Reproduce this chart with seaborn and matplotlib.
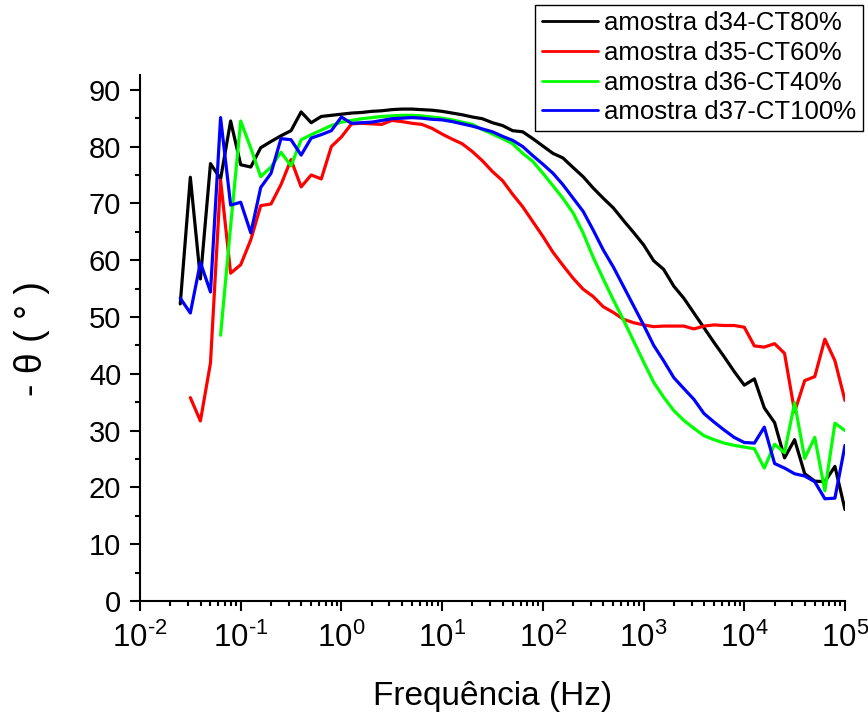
import numpy as np
import pandas as pd
import matplotlib
matplotlib.use("Agg")
import matplotlib.pyplot as plt
import matplotlib.ticker as mticker
import seaborn as sns

# ---------------- data ----------------
freq = [0.0251, 0.0316, 0.0398, 0.0501, 0.0631, 0.0794,
        0.1, 0.126, 0.158, 0.2, 0.251, 0.316, 0.398, 0.501, 0.631, 0.794,
        1, 1.26, 1.58, 2, 2.51, 3.16, 3.98, 5.01, 6.31, 7.94,
        10, 12.6, 15.8, 20, 25.1, 31.6, 39.8, 50.1, 63.1, 79.4,
        100, 126, 158, 200, 251, 316, 398, 501, 631, 794,
        1000, 1260, 1580, 2000, 2510, 3160, 3980, 5010, 6310, 7940,
        10000, 12600, 15800, 20000, 25100, 31600, 39800, 50100, 63100, 79400,
        100000]

d34 = [52.3, 74.6, 56.7, 77.0, 74.3, 84.5, 76.8, 76.4, 79.8, 80.9,
       81.9, 82.8, 86.1, 84.2, 85.3, 85.5, 85.7, 85.9, 86.0, 86.2,
       86.3, 86.5, 86.6, 86.6, 86.5, 86.4, 86.2, 85.9, 85.6, 85.2,
       84.9, 84.2, 83.7, 82.8, 82.6, 81.4, 80.1, 78.8, 78.0, 76.3,
       74.7, 72.7, 70.9, 69.2, 67.0, 64.9, 62.7, 59.9, 58.4, 55.4,
       53.3, 50.7, 48.1, 45.5, 43.0, 40.4, 38.0, 39.1, 34.0, 31.4,
       25.2, 28.4, 22.4, 21.1, 21.0, 23.7, 16.1]

# starts at the 2nd frequency
d35 = [35.8, 31.7, 41.9, 74.1, 57.7, 59.2, 63.6, 69.6, 69.9,
       73.3, 77.7, 72.9, 75.0, 74.3, 80.0, 81.7, 84.0, 84.1, 84.0,
       83.9, 84.6, 84.4, 84.1, 83.9, 83.2, 82.2, 81.3, 80.5, 79.1,
       77.5, 75.6, 74.0, 71.6, 69.4, 66.8, 64.2, 61.4, 59.1, 56.8,
       54.9, 53.6, 51.8, 50.8, 49.6, 49.0, 48.6, 48.3, 48.4, 48.4,
       48.4, 47.9, 48.4, 48.6, 48.5, 48.5, 48.2, 44.9, 44.7, 45.3,
       43.6, 33.3, 38.8, 39.5, 46.1, 42.3, 35.3]

# starts at the 5th frequency
d36 = [46.8, 66.0, 84.5, 79.7, 74.7, 76.4,
       79.0, 76.6, 81.2, 82.1, 82.9, 83.7, 84.3, 84.6, 84.9, 85.1,
       85.3, 85.4, 85.5, 85.5, 85.4, 85.2, 85.0, 84.7, 84.3, 83.9,
       83.0, 82.2, 81.4, 80.5, 78.8, 77.4, 75.3, 73.1, 70.9, 68.3,
       64.8, 60.5, 56.7, 53.0, 49.5, 45.8, 42.1, 38.5, 35.9, 33.5,
       31.8, 30.4, 29.1, 28.4, 27.8, 27.4, 27.1, 26.8, 23.4, 27.6,
       26.1, 34.9, 25.1, 28.8, 19.4, 31.3, 30.0]

d37 = [53.3, 50.7, 59.6, 54.4, 85.1, 69.7, 70.2, 64.8, 72.8, 75.3,
       81.4, 81.2, 78.5, 81.5, 82.1, 82.8, 85.2, 84.1, 84.2, 84.3,
       84.6, 84.9, 85.0, 85.1, 85.0, 84.8, 84.7, 84.4, 84.0, 83.6,
       83.1, 82.6, 81.8, 81.1, 80.0, 78.4, 76.9, 75.3, 73.3, 70.9,
       68.6, 65.3, 61.8, 58.8, 55.4, 52.0, 48.6, 45.0, 42.3, 39.3,
       37.4, 35.5, 33.0, 31.5, 30.1, 28.8, 27.9, 27.8, 30.6, 24.2,
       23.4, 22.4, 22.0, 21.0, 18.0, 18.1, 27.4]

labels = ["amostra d34-CT80%", "amostra d35-CT60%",
          "amostra d36-CT40%", "amostra d37-CT100%"]
colors = ["#000000", "#ff0000", "#00ff00", "#0000ff"]

x_exponents = [-2, -1, 0, 1, 2, 3, 4, 5]

series = [d34, d35, d36, d37]
frames = []
for lab, vals in zip(labels, series):
    f = freq[len(freq) - len(vals):]
    frames.append(pd.DataFrame({"freq": f, "theta": vals, "amostra": lab}))
df = pd.concat(frames, ignore_index=True)

# ---------------- style ----------------
sns.set_style("ticks")
plt.rcParams["font.family"] = ["Liberation Sans", "DejaVu Sans"]
plt.rcParams["mathtext.fontset"] = "custom"
plt.rcParams["mathtext.rm"] = "Liberation Sans"
plt.rcParams["mathtext.it"] = "Liberation Sans:italic"
plt.rcParams["mathtext.bf"] = "Liberation Sans:bold"
plt.rcParams["mathtext.default"] = "regular"
plt.rcParams["axes.unicode_minus"] = False
for k in ["text.color", "axes.labelcolor", "xtick.color", "ytick.color",
          "xtick.labelcolor", "ytick.labelcolor"]:
    plt.rcParams[k] = "black"

W, H = 868, 713
fig = plt.figure(figsize=(W / 100, H / 100), dpi=100)
ax = fig.add_axes([140 / W, 1 - 601 / H, 705 / W, 526 / H])

sns.lineplot(data=df, x="freq", y="theta", hue="amostra", palette=colors,
             hue_order=labels, estimator=None, sort=False, linewidth=2.3,
             ax=ax)

ax.set_xscale("log")
ax.set_xlim(1e-2, 1e5)
ax.set_ylim(0, 92.6)


def exp_label(e):
    if e < 0:
        return r"$10^{\text{-}%d}$" % (-e)
    return r"$10^{%d}$" % e


ax.set_xticks([10.0 ** e for e in x_exponents])
ax.set_xticklabels([exp_label(e) for e in x_exponents])
ax.xaxis.set_minor_locator(mticker.LogLocator(base=10, subs=np.arange(2, 10), numticks=20))
ax.xaxis.set_minor_formatter(mticker.NullFormatter())
ax.yaxis.set_major_locator(mticker.MultipleLocator(10))
ax.yaxis.set_minor_locator(mticker.MultipleLocator(5))

for s in ["top", "right"]:
    ax.spines[s].set_visible(False)
for s in ["left", "bottom"]:
    ax.spines[s].set_linewidth(1.5)
    ax.spines[s].set_color("black")

ax.tick_params(which="major", direction="out", length=7.5, width=1.5,
               color="black", labelcolor="black")
ax.tick_params(which="minor", direction="out", length=3.8, width=1.5,
               color="black")
ax.tick_params(axis="y", which="major", labelsize=21, pad=6)
ax.tick_params(axis="x", which="major", labelsize=22.5, pad=8)

ax.set_xlabel("Frequência (Hz)", fontsize=24)
ax.set_ylabel("- θ ( ° )", fontsize=27)
ax.xaxis.set_label_coords(0.5, -0.152)
ax.yaxis.set_label_coords(-0.128, 0.5)

handles, labs = ax.get_legend_handles_labels()
leg = ax.legend(handles, labs, loc="upper right",
                bbox_to_anchor=(863 / W, 1 - 5 / H),
                bbox_transform=fig.transFigure, borderaxespad=0,
                fontsize=18.5, handlelength=2.2, handletextpad=0.25,
                labelspacing=0.22, borderpad=0.25, frameon=True,
                fancybox=False, framealpha=1, edgecolor="black")
leg.get_frame().set_linewidth(1.0)
for line in leg.get_lines():
    line.set_linewidth(2.0)

fig.savefig("out.png", dpi=100)
